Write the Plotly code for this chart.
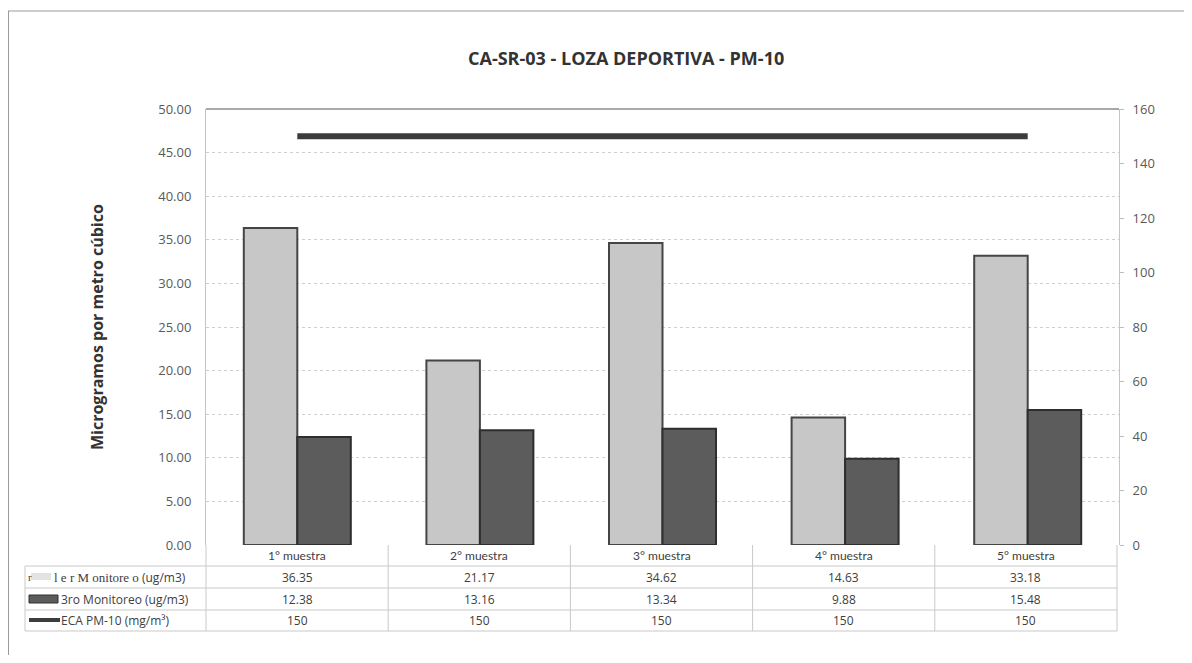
import plotly.graph_objects as go

categories = ["1° muestra", "2° muestra", "3° muestra", "4° muestra", "5° muestra"]
monitoreo_1 = [36.35, 21.17, 34.62, 14.63, 33.18]
monitoreo_3 = [12.38, 13.16, 13.34, 9.88, 15.48]
eca_pm10 = [150, 150, 150, 150, 150]
left_ticks = [0, 5, 10, 15, 20, 25, 30, 35, 40, 45, 50]
right_ticks = [0, 20, 40, 60, 80, 100, 120, 140, 160]
series_names = ["l e r M onitore o", "3ro Monitoreo (ug/m3)", "ECA PM-10 (mg/m³)"]
title = "CA-SR-03 - LOZA DEPORTIVA - PM-10"
y_title = "Microgramos por metro cúbico"

OFF = 8  # page body margin
W, H = 1192 - 2 * OFF, 663 - 2 * OFF
L, R, T, B = 206, 1119, 109, 545  # screen pixels
FONT = "'Open Sans', Lato, sans-serif"
CFONT = "Lato, 'Open Sans', sans-serif"
TXT = "#404040"

def px(X):
    return (X - L) / (R - L)

def py(Y):
    return (B - Y) / (B - T)

fig = go.Figure()
fig.add_trace(go.Bar(x=categories, y=monitoreo_1, name="1er Monitoreo (ug/m3)",
                     marker=dict(color="#c7c7c7", line=dict(color="#454545", width=2))))
fig.add_trace(go.Bar(x=categories, y=monitoreo_3, name=series_names[1],
                     marker=dict(color="#5c5c5c", line=dict(color="#2e2e2e", width=2))))
fig.add_trace(go.Scatter(x=categories, y=eca_pm10, name=series_names[2], yaxis="y2",
                         mode="lines", line=dict(color="#3c3c3c", width=6)))

shapes = []
grid = "#c9c9c9"
# outer border (left and top)
shapes.append(dict(type="line", xref="paper", yref="paper", x0=px(8.5), x1=px(8.5), y0=py(11), y1=py(663), line=dict(color="#9a9a9a", width=1)))
shapes.append(dict(type="line", xref="paper", yref="paper", x0=px(8), x1=px(1192), y0=py(11), y1=py(11), line=dict(color="#9a9a9a", width=1)))
# top border of plot area
shapes.append(dict(type="line", xref="paper", yref="paper", x0=0, x1=1, y0=1, y1=1, line=dict(color="#8c8c8c", width=1.5)))
# table horizontal lines
row_y = [566, 588, 610, 631]
for Y in row_y:
    shapes.append(dict(type="line", xref="paper", yref="paper", x0=px(25), x1=px(1117), y0=py(Y), y1=py(Y), line=dict(color=grid, width=1)))
shapes.append(dict(type="line", xref="paper", yref="paper", x0=px(25), x1=px(25), y0=py(566), y1=py(631), line=dict(color=grid, width=1)))
n = len(categories)
for i in range(n + 1):
    X = L + i * (1117 - L) / n
    shapes.append(dict(type="line", xref="paper", yref="paper", x0=px(X), x1=px(X), y0=py(545), y1=py(631), line=dict(color=grid, width=1)))
# legend keys in table
shapes.append(dict(type="rect", xref="paper", yref="paper", x0=px(31), x1=px(51), y0=py(573), y1=py(580), fillcolor="#e3e3e3", line=dict(width=0)))
shapes.append(dict(type="rect", xref="paper", yref="paper", x0=px(29), x1=px(58), y0=py(595), y1=py(603), fillcolor="#5c5c5c", line=dict(color="#303030", width=1)))
shapes.append(dict(type="line", xref="paper", yref="paper", x0=px(29), x1=px(60), y0=py(620), y1=py(620), line=dict(color="#3c3c3c", width=4)))

annotations = []
annotations.append(dict(text="<b>" + title + "</b>", xref="paper", yref="paper", x=px(626), y=py(58),
                        xanchor="center", yanchor="middle",
                        showarrow=False, font=dict(family=FONT, size=18, color="#333333")))
annotations.append(dict(text="<b>" + y_title + "</b>", xref="paper", yref="paper", x=px(97), y=0.5,
                        xanchor="center", yanchor="middle",
                        textangle=-90, showarrow=False, font=dict(family=FONT, size=16, color="#333333")))
colw = (1117 - L) / n
cy = [555.5, 577, 599, 620.5]
for i, c in enumerate(categories):
    xc = px(L + (i + 0.5) * colw)
    annotations.append(dict(text=c, xref="paper", yref="paper", x=xc, y=py(cy[0]), showarrow=False,
                            xanchor="center", yanchor="middle",
                            font=dict(family=CFONT, size=12, color=TXT)))
    for r, vals, fmt in [(1, monitoreo_1, "{:.2f}"), (2, monitoreo_3, "{:.2f}"), (3, eca_pm10, "{:d}")]:
        annotations.append(dict(text=fmt.format(vals[i]), xref="paper", yref="paper", x=xc, y=py(cy[r]),
                                xanchor="center", yanchor="middle",
                                showarrow=False, font=dict(family=FONT, size=12, color=TXT)))
annotations.append(dict(text="<span style='font-family:Liberation Serif'>r</span>", xref="paper", yref="paper",
                        x=px(26), y=py(cy[1]), xanchor="left", yanchor="middle", showarrow=False,
                        font=dict(family=FONT, size=11, color=TXT)))
annotations.append(dict(text="<span style='font-family:Liberation Serif;font-size:13px'>" + series_names[0] + "</span> (ug/m3)",
                        xref="paper", yref="paper", x=px(52), y=py(cy[1]), xanchor="left", yanchor="middle",
                        showarrow=False, font=dict(family=FONT, size=12, color=TXT)))
annotations.append(dict(text=series_names[1], xref="paper", yref="paper", x=px(59), y=py(cy[2]), xanchor="left",
                        yanchor="middle", showarrow=False, font=dict(family=FONT, size=12, color=TXT)))
annotations.append(dict(text=series_names[2], xref="paper", yref="paper", x=px(59), y=py(cy[3]), xanchor="left",
                        yanchor="middle", showarrow=False, font=dict(family=FONT, size=12, color=TXT)))

fig.update_layout(
    width=W, height=H,
    margin=dict(l=L - OFF, r=W + OFF - R, t=T - OFF, b=H + OFF - B, autoexpand=False),
    paper_bgcolor="white", plot_bgcolor="white",
    showlegend=False,
    barmode="group", bargap=0.414, bargroupgap=0,
    font=dict(family=FONT, size=11, color="#595959"),
    xaxis=dict(showticklabels=False, showgrid=False, ticks="", zeroline=False, showline=False, fixedrange=True),
    yaxis=dict(range=[0, 50], tickvals=left_ticks, tickformat=".2f", showgrid=True, gridcolor="#cfcfcf",
               griddash="dot", gridwidth=1, zeroline=False, showline=True, linecolor="#c4c4c4", linewidth=1,
               ticks="", ticklabelstandoff=11, tickfont=dict(family=FONT, size=13, color="#595959")),
    yaxis2=dict(range=[0, 160], tickvals=right_ticks, overlaying="y", side="right", showgrid=False,
                zeroline=False, showline=True, linecolor="#c4c4c4", linewidth=1, ticks="outside", ticklen=4,
                tickcolor="#bdbdbd", ticklabelstandoff=6, tickfont=dict(family=FONT, size=13, color="#595959")),
    shapes=shapes, annotations=annotations,
)

fig.write_html("out.html")
